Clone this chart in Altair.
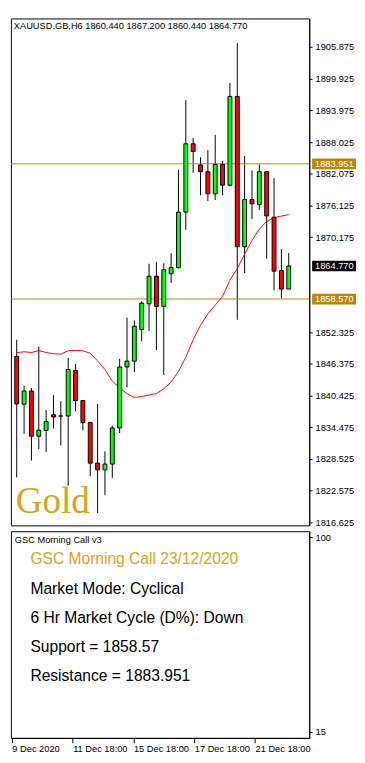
import altair as alt
import pandas as pd

# ---------------- data ----------------
bar_index = list(range(38))
opens = [1847.80, 1838.83, 1841.30, 1832.82, 1833.90, 1836.84, 1836.62, 1836.61, 1845.15, 1839.50,
         1835.40, 1827.76, 1826.50, 1827.58, 1834.37, 1845.81, 1846.90, 1852.86, 1857.66, 1862.84,
         1857.19, 1863.33, 1864.47, 1874.89, 1887.71, 1883.74, 1882.47, 1878.32, 1883.85, 1879.94,
         1896.61, 1868.39, 1877.24, 1876.33, 1882.47, 1873.92, 1863.93, 1860.44]
highs = [1850.93, 1842.31, 1841.90, 1849.66, 1837.71, 1840.51, 1839.37, 1847.50, 1846.41, 1839.60,
         1835.50, 1838.88, 1829.98, 1834.80, 1847.32, 1855.08, 1854.54, 1858.15, 1865.19, 1865.55,
         1865.28, 1867.17, 1882.83, 1895.89, 1888.79, 1885.18, 1886.50, 1889.39, 1884.51, 1899.14,
         1906.60, 1885.42, 1882.71, 1883.85, 1882.60, 1881.26, 1867.95, 1867.20]
lows = [1825.10, 1833.28, 1828.23, 1830.39, 1829.85, 1834.26, 1831.07, 1823.53, 1837.51, 1833.90,
        1825.30, 1818.42, 1821.73, 1824.98, 1833.41, 1842.03, 1844.84, 1850.62, 1852.60, 1849.00,
        1844.30, 1861.58, 1864.30, 1871.57, 1882.29, 1878.07, 1876.98, 1877.16, 1878.07, 1879.70,
        1854.67, 1863.44, 1873.62, 1875.30, 1866.15, 1860.19, 1858.69, 1860.44]
closes = [1838.88, 1841.30, 1832.82, 1833.95, 1835.58, 1836.42, 1836.58, 1845.33, 1839.50, 1835.40,
          1827.76, 1826.50, 1827.58, 1834.37, 1845.81, 1846.90, 1853.45, 1857.79, 1862.84, 1857.19,
          1864.06, 1864.47, 1874.89, 1887.71, 1886.27, 1882.47, 1878.32, 1883.85, 1879.94, 1896.61,
          1868.39, 1877.24, 1876.44, 1882.47, 1874.17, 1863.80, 1860.44, 1864.77]
moving_avg = [1848.49, 1848.67, 1848.52, 1848.90, 1848.52, 1848.31, 1848.22, 1848.85, 1848.94, 1848.85,
              1848.40, 1846.95, 1845.33, 1843.16, 1841.90, 1840.81, 1840.09, 1840.27, 1840.54, 1840.81,
              1841.72, 1842.98, 1844.96, 1847.67, 1850.92, 1853.63, 1855.80, 1857.43, 1859.05, 1862.12,
              1864.29, 1867.00, 1869.53, 1871.70, 1873.14, 1873.86, 1874.14, 1874.41]

resistance = 1883.951
support = 1858.570
last_price = 1864.770

price_ticks = [1905.875, 1899.925, 1893.975, 1888.025, 1882.075, 1876.125, 1870.175,
               1852.325, 1846.375, 1840.425, 1834.475, 1828.525, 1822.575, 1816.625]
time_tick_idx = [0, 8, 16, 24, 32]
time_tick_labels = ["9 Dec 2020", "11 Dec 18:00", "15 Dec 18:00", "17 Dec 18:00", "21 Dec 18:00"]
osc_ticks = [15, 100]

header = "XAUUSD.GB,H6  1860.440 1867.200 1860.440 1864.770"
indicator_name = "GSC Morning Call v3"
panel_lines = ["GSC Morning Call 23/12/2020", "Market Mode: Cyclical",
               "6 Hr Market Cycle (D%): Down", "Support = 1858.57", "Resistance = 1883.951"]
brand = "Gold"

# ---------------- layout / style ----------------
W, H1, H2 = 306, 520, 212
FONT = "Liberation Sans"
FS = 9.5
GOLD_LINE = "#B8860B"
GOLD_TEXT = "#DAA520"

xscale = alt.Scale(domain=[-0.125, 39.125], nice=False, zero=False)
yscale = alt.Scale(domain=[1816.07, 1911.24], nice=False, zero=False)

df = pd.DataFrame({"i": bar_index, "o": opens, "h": highs, "l": lows, "c": closes, "ma": moving_avg})
df["dir"] = ["up" if c >= o else "down" for o, c in zip(opens, closes)]


def price_axis():
    return alt.Axis(orient="right", values=price_ticks, format=".3f", tickSize=3, labelPadding=3,
                    labelAlign="left", labelBaseline="middle", grid=False, title=None,
                    domainColor="black", tickColor="black", labelColor="black",
                    labelFont=FONT, labelFontSize=FS, labelOverlap=False, labelFlush=False,
                    labelBound=False)


base = alt.Chart(df)
wicks = base.mark_rule(color="black", strokeWidth=1, clip=True).encode(
    x=alt.X("i:Q", scale=xscale, axis=None),
    y=alt.Y("l:Q", scale=yscale, axis=price_axis()),
    y2="h:Q",
)
bodies = base.mark_bar(size=4, stroke="black", strokeWidth=1, clip=True).encode(
    x=alt.X("i:Q", scale=xscale, axis=None),
    y=alt.Y("o:Q", scale=yscale, axis=price_axis()),
    y2="c:Q",
    color=alt.Color("dir:N", scale=alt.Scale(domain=["up", "down"], range=["#00ff00", "#ff0000"]), legend=None),
)
ma_line = base.mark_line(color="#ff0000", strokeWidth=1, clip=True).encode(
    x=alt.X("i:Q", scale=xscale, axis=None),
    y=alt.Y("ma:Q", scale=yscale, axis=price_axis()),
)

levels = pd.DataFrame({"price": [resistance, support]})
level_rules = alt.Chart(levels).mark_rule(color=GOLD_LINE, strokeWidth=1).encode(
    y=alt.Y("price:Q", scale=yscale, axis=price_axis())
)

boxes_df = pd.DataFrame({
    "price": [resistance, support, last_price],
    "label": [f"{resistance:.3f}", f"{support:.3f}", f"{last_price:.3f}"],
    "bg": [GOLD_LINE, GOLD_LINE, "black"],
})
box_shape = "M-1,-0.2444L1,-0.2444L1,0.2444L-1,0.2444Z"
boxes = alt.Chart(boxes_df).mark_point(shape=box_shape, size=2025, filled=True, opacity=1, strokeWidth=0).encode(
    x=alt.value(W + 25.5),
    y=alt.Y("price:Q", scale=yscale, axis=price_axis()),
    color=alt.Color("bg:N", scale=None),
)
box_text = alt.Chart(boxes_df).mark_text(align="left", baseline="middle", color="white",
                                         font=FONT, fontSize=FS).encode(
    x=alt.value(W + 6),
    y=alt.Y("price:Q", scale=yscale, axis=price_axis()),
    text="label:N",
)

header_text = alt.Chart(pd.DataFrame({"t": [header]})).mark_text(
    align="left", baseline="middle", font=FONT, fontSize=FS, color="black"
).encode(x=alt.value(3), y=alt.value(8), text="t:N")

brand_text = alt.Chart(pd.DataFrame({"t": [brand]})).mark_text(
    align="left", baseline="alphabetic", font="Liberation Serif", fontSize=38, color=GOLD_TEXT
).encode(x=alt.value(5), y=alt.value(507), text="t:N")

top = alt.layer(wicks, level_rules, ma_line, bodies, boxes, box_text, header_text, brand_text).properties(
    width=W, height=H1
)

# ---------------- indicator panel ----------------
label_expr = " : ".join(
    f"datum.value == {v} ? '{t}'" for v, t in zip(time_tick_idx, time_tick_labels)
) + " : ''"
time_axis = alt.Axis(values=time_tick_idx, labelExpr=label_expr, labelAlign="left", tickSize=5,
                     labelPadding=1, grid=False, title=None, domainColor="black", tickColor="black",
                     labelColor="black", labelFont=FONT, labelFontSize=FS, labelOverlap=False,
                     labelFlush=False)
osc_axis = alt.Axis(orient="right", values=osc_ticks, format="d", tickSize=3, labelPadding=3,
                    labelAlign="left", labelBaseline="middle", grid=False, title=None,
                    domainColor="black", tickColor="black", labelColor="black",
                    labelFont=FONT, labelFontSize=FS, labelOverlap=False, labelFlush=False)

anchor = alt.Chart(pd.DataFrame({"i": [0, 32], "v": osc_ticks})).mark_point(opacity=0).encode(
    x=alt.X("i:Q", scale=xscale, axis=time_axis),
    y=alt.Y("v:Q", scale=alt.Scale(domain=[12.45, 102.55], nice=False, zero=False), axis=osc_axis),
)

name_text = alt.Chart(pd.DataFrame({"t": [indicator_name]})).mark_text(
    align="left", baseline="middle", font=FONT, fontSize=FS, color="black"
).encode(x=alt.value(4), y=alt.value(9), text="t:N")

line_layers = []
for k, line in enumerate(panel_lines):
    line_layers.append(
        alt.Chart(pd.DataFrame({"t": [line]})).mark_text(
            align="left", baseline="middle", font=FONT, fontSize=16,
            color=GOLD_TEXT if k == 0 else "black"
        ).encode(x=alt.value(20), y=alt.value(29 + 30 * k), text="t:N")
    )

bottom = alt.layer(anchor, name_text, *line_layers).properties(width=W, height=H2)

chart = alt.vconcat(top, bottom, spacing=3).properties(
    padding=0, background="white"
).configure_view(stroke="black", strokeWidth=1)

chart.save("out.html", embed_options={"renderer": "svg", "actions": False})
